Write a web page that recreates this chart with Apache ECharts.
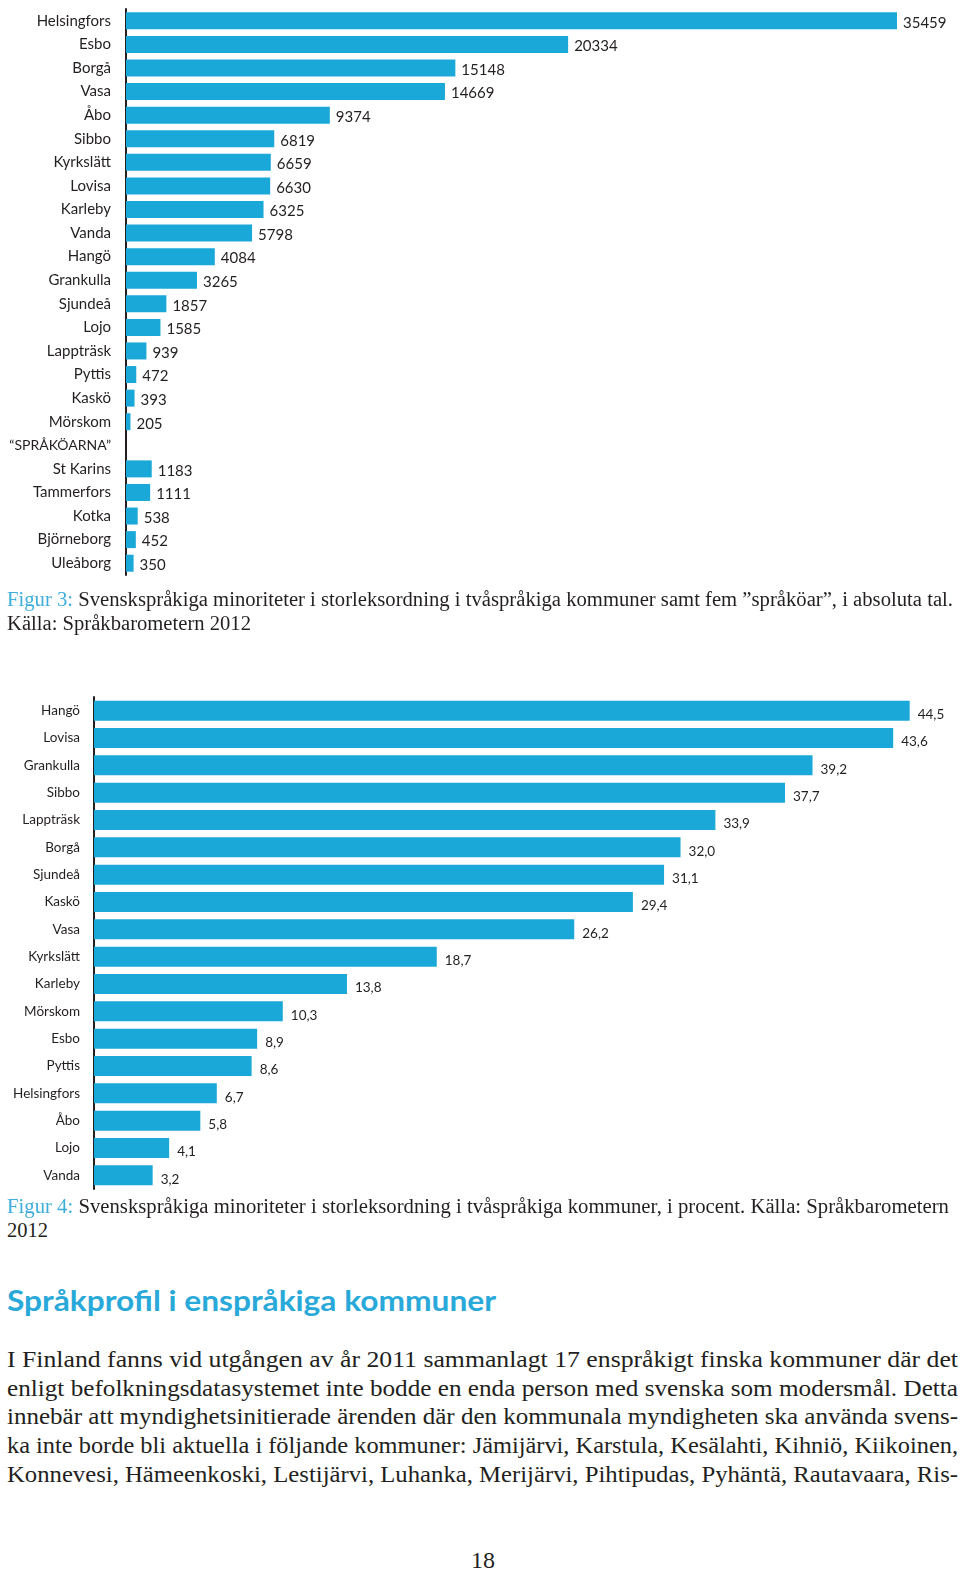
<!DOCTYPE html>
<html><head><meta charset="utf-8">
<script src="https://cdn.jsdelivr.net/npm/echarts@6/dist/echarts.min.js"></script>
<style>
html,body{margin:0;padding:0;background:#fff;width:960px;height:1570px;overflow:hidden;}
#chart{position:absolute;left:0;top:0;width:960px;height:1200px;}
.t{position:absolute;left:7px;white-space:nowrap;transform-origin:0 50%;color:#231f20;font-family:"Liberation Serif",serif;}
.cap{font-size:20px;line-height:24px;}
.body{font-size:23px;line-height:28px;}
.fig{color:#3daedb;}
.head{font-family:Lato,"Open Sans",sans-serif;font-weight:bold;color:#29a9d9;font-size:28px;line-height:36px;}
.pg{font-size:23px;line-height:28px;left:471px;}
</style>
</head><body>
<div id="chart"></div>
<div class="t cap" style="top:587px" data-w="946"><span class="fig">Figur 3:</span> Svenskspråkiga minoriteter i storleksordning i tvåspråkiga kommuner samt fem ”språköar”, i absoluta tal.</div>
<div class="t cap" style="top:611px" data-w="244">Källa: Språkbarometern 2012</div>
<div class="t cap" style="top:1194px" data-w="942"><span class="fig">Figur 4:</span> Svenskspråkiga minoriteter i storleksordning i tvåspråkiga kommuner, i procent. Källa: Språkbarometern</div>
<div class="t cap" style="top:1218px" data-w="41">2012</div>
<div class="t head" style="top:1282px" data-w="489">Språkprofil i enspråkiga kommuner</div>
<div class="t body" style="top:1346px" data-w="951">I Finland fanns vid utgången av år 2011 sammanlagt 17 enspråkigt finska kommuner där det</div>
<div class="t body" style="top:1375px" data-w="951">enligt befolkningsdatasystemet inte bodde en enda person med svenska som modersmål. Detta</div>
<div class="t body" style="top:1403px" data-w="951">innebär att myndighetsinitierade ärenden där den kommunala myndigheten ska använda svens-</div>
<div class="t body" style="top:1432px" data-w="951">ka inte borde bli aktuella i följande kommuner: Jämijärvi, Karstula, Kesälahti, Kihniö, Kiikoinen,</div>
<div class="t body" style="top:1461px" data-w="951">Konnevesi, Hämeenkoski, Lestijärvi, Luhanka, Merijärvi, Pihtipudas, Pyhäntä, Rautavaara, Ris-</div>
<div class="t pg" style="top:1547px" data-w="24">18</div>
<script>
// Figur 3: absolute numbers
const cat1 = ['Helsingfors','Esbo','Borgå','Vasa','Åbo','Sibbo','Kyrkslätt','Lovisa','Karleby','Vanda','Hangö','Grankulla','Sjundeå','Lojo','Lappträsk','Pyttis','Kaskö','Mörskom','“SPRÅKÖARNA”','St Karins','Tammerfors','Kotka','Björneborg','Uleåborg'];
const val1 = [35459,20334,15148,14669,9374,6819,6659,6630,6325,5798,4084,3265,1857,1585,939,472,393,205,null,1183,1111,538,452,350];
// Figur 4: percent
const cat2 = ['Hangö','Lovisa','Grankulla','Sibbo','Lappträsk','Borgå','Sjundeå','Kaskö','Vasa','Kyrkslätt','Karleby','Mörskom','Esbo','Pyttis','Helsingfors','Åbo','Lojo','Vanda'];
const val2 = [44.5,43.6,39.2,37.7,33.9,32.0,31.1,29.4,26.2,18.7,13.8,10.3,8.9,8.6,6.7,5.8,4.1,3.2];

const BLUE = '#1aa8d8', INK = '#231f20', SANS = 'Lato, "Open Sans", sans-serif';
const chart = echarts.init(document.getElementById('chart'), null, {renderer:'canvas'});
const cat1Items = cat1.map(c => c.indexOf('SPRÅK') >= 0 ? {value:c, textStyle:{fontSize:14, letterSpacing:-0.3}} : c);
chart.setOption({
  animation:false,
  grid:[{left:126, top:9, width:804.5, height:566},{left:94, top:697, width:861.5, height:492}],
  xAxis:[{gridIndex:0,type:'value',min:0,max:37000,show:false},{gridIndex:1,type:'value',min:0,max:47,show:false}],
  yAxis:[
    {gridIndex:0,type:'category',data:cat1Items,inverse:true,axisLine:{show:true,lineStyle:{color:INK,width:2}},axisTick:{show:false},
     axisLabel:{margin:15,fontSize:15,color:INK,fontFamily:SANS}},
    {gridIndex:1,type:'category',data:cat2,inverse:true,axisLine:{show:true,lineStyle:{color:INK,width:2}},axisTick:{show:false},
     axisLabel:{margin:14,fontSize:13.5,color:INK,fontFamily:SANS}}
  ],
  series:[
    {type:'bar',xAxisIndex:0,yAxisIndex:0,data:val1,barWidth:17,itemStyle:{color:BLUE},
     label:{show:true,position:'right',distance:6,offset:[0,2],fontSize:15,color:INK,fontFamily:SANS}},
    {type:'bar',xAxisIndex:1,yAxisIndex:1,data:val2,barWidth:20,itemStyle:{color:BLUE},
     label:{show:true,position:'right',distance:8,offset:[0,4],fontSize:13.5,color:INK,fontFamily:SANS,
       formatter:p=>p.value.toFixed(1).replace('.',',')}}
  ]
});
// fit text lines to the reference widths
document.querySelectorAll('.t[data-w]').forEach(el=>{
  const target = +el.dataset.w;
  const w = el.getBoundingClientRect().width;
  el.style.transform = 'scaleX(' + (target/w) + ')';
});
</script>
</body></html>
